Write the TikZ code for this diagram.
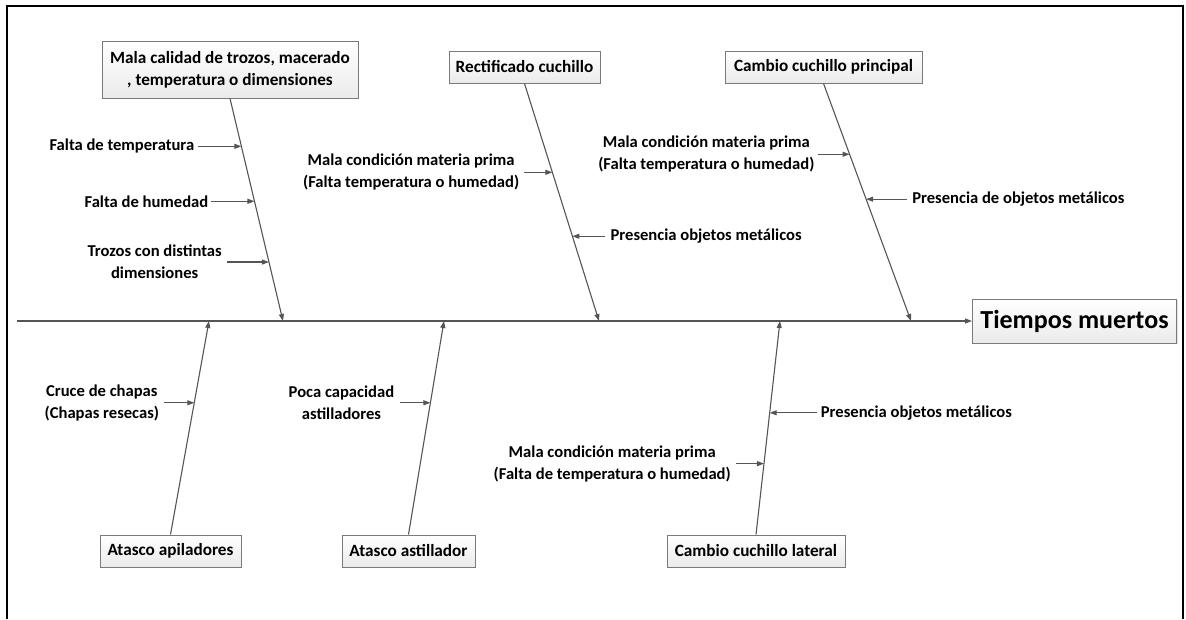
\documentclass[tikz,border=0pt]{standalone}
\usepackage{fontspec}
\setmainfont{Carlito}
\usetikzlibrary{arrows.meta,calc,shadows}
\definecolor{lnc}{HTML}{555555}
\definecolor{boxd}{HTML}{7a7a7a}
\tikzset{
  bone/.style={draw=lnc, line width=1.1pt, -{Triangle[length=7pt,width=5pt]}},
  sub/.style={draw=lnc, line width=1.1pt, -{Triangle[length=7pt,width=5pt]}},
  cbox/.style={draw=boxd, line width=1pt, top color=white, bottom color=black!8,
    font=\fontsize{17.2}{22}\selectfont\bfseries, align=center, inner xsep=3pt, inner ysep=2pt,
    drop shadow={shadow xshift=1pt, shadow yshift=-1pt, opacity=0.25}},
  lbl/.style={font=\fontsize{16.6}{22}\selectfont\bfseries, align=center, inner sep=0pt},
}
\begin{document}
\begin{tikzpicture}[x=1pt,y=-1pt]
\useasboundingbox (0,0) rectangle (1186,619);
% frame
\draw[line width=2pt, black] (7,619) -- (7,6) -- (1183,6) -- (1183,619);
% effect
\node[cbox, minimum width=204pt, minimum height=44pt, font=\fontsize{26}{28}\selectfont\bfseries] (eff) at (1074.5,321) {Tiempos muertos};
\coordinate (sp0) at (17,321);
\draw[bone] (sp0) -- (eff.west);
% spine points
\coordinate (e1) at (283,321);
\coordinate (e2) at (599,321);
\coordinate (e3) at (911,321);
\coordinate (e4) at (209,321);
\coordinate (e5) at (444,321);
\coordinate (e6) at (780,321);
% top boxes
\node[cbox, minimum width=256pt, minimum height=57pt] (c1) at (230,69.5) {Mala calidad de trozos, macerado\\, temperatura o dimensiones};
\node[cbox, minimum width=151pt, minimum height=32pt] (c2) at (524.5,67) {Rectificado cuchillo};
\node[cbox, minimum width=197pt, minimum height=32pt] (c3) at (823.5,67) {Cambio cuchillo principal};
% bottom boxes
\node[cbox, minimum width=141pt, minimum height=32pt] (c4) at (170.5,551) {Atasco apiladores};
\node[cbox, minimum width=133pt, minimum height=32pt] (c5) at (408.5,551) {Atasco astillador};
\node[cbox, minimum width=178pt, minimum height=32pt] (c6) at (756,551) {Cambio cuchillo lateral};
% bones
\draw[bone] (c1.south) -- (e1);
\draw[bone] (c2.south) -- (e2);
\draw[bone] (c3.south) -- (e3);
\draw[bone] (c4.north) -- (e4);
\draw[bone] (c5.north) -- (e5);
\draw[bone] (c6.north) -- (e6);
% points on bones
\coordinate (b1a) at ($(c1.south)!0.215!(e1)$);
\coordinate (b1b) at ($(c1.south)!0.462!(e1)$);
\coordinate (b1c) at ($(c1.south)!0.735!(e1)$);
\coordinate (b2a) at ($(c2.south)!0.374!(e2)$);
\coordinate (b2b) at ($(c2.south)!0.643!(e2)$);
\coordinate (b3a) at ($(c3.south)!0.298!(e3)$);
\coordinate (b3b) at ($(c3.south)!0.487!(e3)$);
\coordinate (b4a) at ($(c4.north)!0.617!(e4)$);
\coordinate (b5a) at ($(c5.north)!0.617!(e5)$);
\coordinate (b6a) at ($(c6.north)!0.570!(e6)$);
\coordinate (b6b) at ($(c6.north)!0.332!(e6)$);
% arrow starts
\path (b1a) ++(-43,0) coordinate (s1a);
\path (b1b) ++(-43,0) coordinate (s1b);
\path (b1c) ++(-42,0) coordinate (s1c);
\path (b2a) ++(-28,0) coordinate (s2a);
\path (b2b) ++(33,0) coordinate (s2b);
\path (b3a) ++(-32,0) coordinate (s3a);
\path (b3b) ++(41,0) coordinate (s3b);
\path (b4a) ++(-30,0) coordinate (s4a);
\path (b5a) ++(-30,0) coordinate (s5a);
\path (b6a) ++(47,0) coordinate (s6a);
\path (b6b) ++(-28,0) coordinate (s6b);
% sub-cause arrows
\draw[sub] (s1a) -- (b1a);
\draw[sub] (s1b) -- (b1b);
\draw[sub] (s1c) -- (b1c);
\draw[sub] (s2a) -- (b2a);
\draw[sub] (s2b) -- (b2b);
\draw[sub] (s3a) -- (b3a);
\draw[sub] (s3b) -- (b3b);
\draw[sub] (s4a) -- (b4a);
\draw[sub] (s5a) -- (b5a);
\draw[sub] (s6a) -- (b6a);
\draw[sub] (s6b) -- (b6b);
% labels
\node[lbl, anchor=east] (t1a) at ([xshift=-4pt]s1a) {Falta de temperatura};
\node[lbl, anchor=east] (t1b) at ([xshift=-3pt]s1b) {Falta de humedad};
\node[lbl, anchor=east] (t1c) at ([xshift=-5pt]s1c) {Trozos con distintas\\dimensiones};
\node[lbl, anchor=east] (t2a) at ([xshift=-5pt]s2a) {Mala condición materia prima\\(Falta temperatura o humedad)};
\node[lbl, anchor=west] (t2b) at ([xshift=5pt]s2b) {Presencia objetos metálicos};
\node[lbl, anchor=east] (t3a) at ([xshift=-3pt]s3a) {Mala condición materia prima\\(Falta temperatura o humedad)};
\node[lbl, anchor=west] (t3b) at ([xshift=5pt]s3b) {Presencia de objetos metálicos};
\node[lbl, anchor=east] (t4a) at ([xshift=-5pt]s4a) {Cruce de chapas\\(Chapas resecas)};
\node[lbl, anchor=east] (t5a) at ([xshift=-6pt]s5a) {Poca capacidad\\astilladores};
\node[lbl, anchor=west] (t6a) at ([xshift=4pt]s6a) {Presencia objetos metálicos};
\node[lbl, anchor=east] (t6b) at ([xshift=-5pt]s6b) {Mala condición materia prima\\(Falta de temperatura o humedad)};
\end{tikzpicture}
\end{document}
